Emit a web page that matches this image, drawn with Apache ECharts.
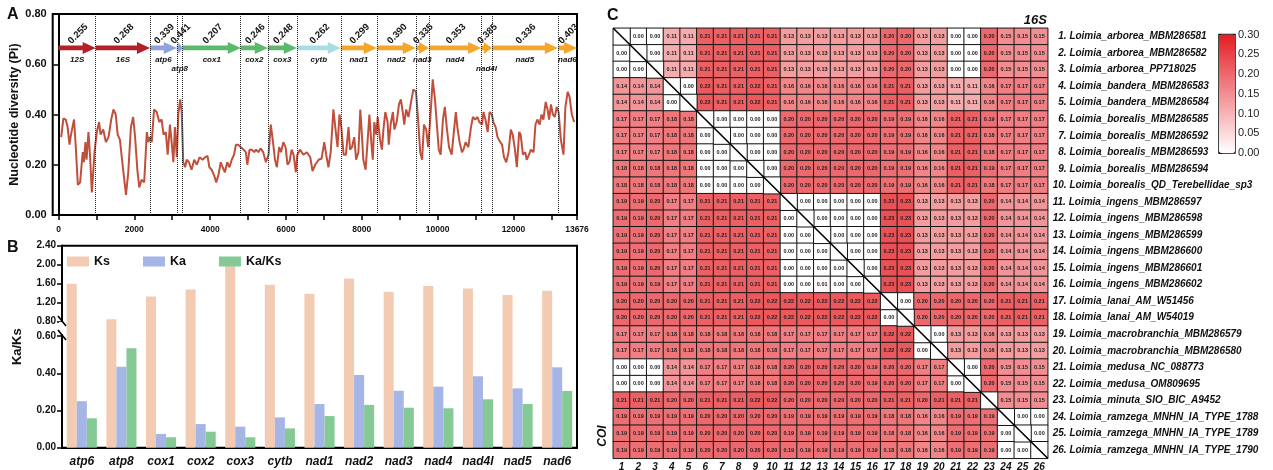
<!DOCTYPE html>
<html>
<head>
<meta charset="utf-8">
<script src="https://cdn.jsdelivr.net/npm/echarts@6/dist/echarts.min.js"></script>
<style>
  html, body { margin: 0; padding: 0; background: #fff; }
  #chart { width: 1273px; height: 470px; }
</style>
</head>
<body>
<div id="chart"></div>
<script>
// ---------- A: sliding-window nucleotide diversity ----------
const seqLength = 13676;
const piPos = [70,130,190,240,290,330,370,410,460,510,570,610,640,670,710,740,790,830,880,950,
  1010,1070,1110,1180,1250,1320,1390,1450,1510,1560,1620,1690,1780,1840,1910,1970,2020,2080,2130,2190,
  2260,2330,2370,2410,2460,2520,2590,2660,2720,2770,2830,2880,2940,2990,3030,3070,3120,3160,3210,3250,
  3290,3340,3380,3440,3510,3580,3650,3720,3800,3870,3930,3980,4040,4100,4160,4220,4280,4330,4390,4450,
  4510,4570,4630,4680,4740,4810,4880,4940,4980,5040,5100,5160,5210,5270,5330,5400,5470,5540,5600,5650,
  5710,5760,5820,5870,5930,5990,6040,6090,6150,6200,6260,6300,6370,6460,6550,6640,6700,6770,6860,6940,
  7010,7060,7120,7180,7250,7300,7360,7410,7460,7520,7580,7650,7690,7740,7800,7850,7910,7960,8010,8040,
  8100,8160,8200,8250,8290,8330,8380,8420,8480,8530,8570,8620,8680,8710,8760,8820,8860,8920,8980,9030,
  9080,9120,9170,9230,9300,9360,9430,9480,9540,9590,9640,9700,9750,9800,9870,9930,9980,10030,10080,10140,
  10190,10240,10300,10370,10440,10480,10520,10580,10640,10680,10740,10810,10880,10930,10990,11050,11100,11170,11210,11260,
  11320,11370,11430,11470,11530,11580,11650,11700,11750,11810,11870,11930,11980,12040,12090,12150,12190,12250,12310,12350,
  12410,12460,12530,12580,12630,12690,12740,12790,12850,12900,12940,12990,13040,13090,13140,13190,13250,13320,13370,13430,
  13480,13540,13600];
const piVal = [0.31,0.385,0.38,0.35,0.28,0.32,0.35,0.38,0.26,0.12,0.13,0.20,0.25,0.21,0.29,0.22,0.33,0.24,0.09,0.25,
  0.33,0.37,0.32,0.34,0.29,0.31,0.38,0.42,0.40,0.32,0.30,0.20,0.08,0.17,0.35,0.39,0.31,0.18,0.11,0.14,
  0.13,0.33,0.29,0.31,0.29,0.42,0.41,0.37,0.38,0.32,0.33,0.24,0.36,0.28,0.21,0.35,0.23,0.40,0.46,0.41,
  0.21,0.19,0.22,0.21,0.18,0.22,0.20,0.23,0.22,0.23,0.235,0.19,0.18,0.16,0.13,0.16,0.21,0.19,0.17,0.21,
  0.19,0.22,0.24,0.28,0.28,0.27,0.26,0.25,0.20,0.26,0.26,0.25,0.26,0.25,0.265,0.25,0.21,0.24,0.36,0.30,
  0.22,0.19,0.27,0.25,0.29,0.27,0.20,0.21,0.26,0.24,0.17,0.24,0.26,0.24,0.25,0.23,0.175,0.20,0.22,0.225,
  0.29,0.24,0.19,0.25,0.42,0.35,0.27,0.40,0.35,0.24,0.24,0.35,0.26,0.27,0.31,0.22,0.25,0.42,0.30,0.22,
  0.18,0.31,0.40,0.29,0.22,0.37,0.32,0.39,0.30,0.26,0.34,0.41,0.37,0.28,0.36,0.41,0.34,0.37,0.44,0.46,
  0.41,0.36,0.42,0.39,0.45,0.50,0.49,0.39,0.25,0.22,0.36,0.34,0.27,0.37,0.54,0.46,0.36,0.26,0.24,0.38,
  0.43,0.35,0.27,0.24,0.35,0.41,0.35,0.29,0.25,0.26,0.29,0.27,0.35,0.39,0.38,0.39,0.37,0.36,0.41,0.38,
  0.33,0.41,0.40,0.37,0.35,0.31,0.29,0.28,0.23,0.21,0.25,0.34,0.32,0.26,0.19,0.33,0.32,0.24,0.25,0.22,
  0.24,0.26,0.25,0.36,0.38,0.36,0.40,0.38,0.45,0.42,0.38,0.44,0.40,0.39,0.43,0.41,0.30,0.24,0.43,0.49,
  0.47,0.40,0.37];

const geneNames = ['12S','16S','atp6','atp8','cox1','cox2','cox3','cytb','nad1','nad2','nad3','nad4','nad4l','nad5','nad6'];
const geneEnds = [981,2414,3119,3277,4807,5520,6285,7446,8396,9425,9768,11148,11430,13172,13676];
const genePi = [0.255,0.268,0.339,0.441,0.207,0.246,0.248,0.262,0.299,0.390,0.335,0.353,0.385,0.336,0.403];

// ---------- B: Ka / Ks ----------
const pcgNames = ['atp6','atp8','cox1','cox2','cox3','cytb','nad1','nad2','nad3','nad4','nad4l','nad5','nad6'];
const ksVals = [1.60,0.85,1.33,1.48,2.01,1.58,1.39,1.71,1.43,1.55,1.50,1.36,1.45];
const kaVals = [0.25,0.435,0.074,0.127,0.113,0.163,0.235,0.391,0.306,0.328,0.384,0.319,0.432];
const kaksVals = [0.158,0.534,0.056,0.086,0.056,0.104,0.170,0.230,0.215,0.212,0.260,0.235,0.305];
const bTickLabels = [0, 0.2, 0.4, 0.6, 0.8, 1.2, 1.6, 2.0, 2.4];

// ---------- C: pairwise distances (lower COI, upper 16S) ----------
const speciesNames = ['Loimia_arborea_MBM286581','Loimia_arborea_MBM286582','Loimia_arborea_PP718025',
  'Loimia_bandera_MBM286583','Loimia_bandera_MBM286584','Loimia_borealis_MBM286585','Loimia_borealis_MBM286592',
  'Loimia_borealis_MBM286593','Loimia_borealis_MBM286594','Loimia_borealis_QD_Terebellidae_sp3',
  'Loimia_ingens_MBM286597','Loimia_ingens_MBM286598','Loimia_ingens_MBM286599','Loimia_ingens_MBM286600',
  'Loimia_ingens_MBM286601','Loimia_ingens_MBM286602','Loimia_lanai_AM_W51456','Loimia_lanai_AM_W54019',
  'Loimia_macrobranchia_MBM286579','Loimia_macrobranchia_MBM286580','Loimia_medusa_NC_088773',
  'Loimia_medusa_OM809695','Loimia_minuta_SIO_BIC_A9452','Loimia_ramzega_MNHN_IA_TYPE_1788',
  'Loimia_ramzega_MNHN_IA_TYPE_1789','Loimia_ramzega_MNHN_IA_TYPE_1790'];
const distRows = [
  [null,0.00,0.00,0.11,0.11,0.21,0.21,0.21,0.21,0.21,0.13,0.13,0.13,0.13,0.13,0.13,0.20,0.20,0.13,0.13,0.00,0.00,0.20,0.15,0.15,0.15],
  [0.00,null,0.00,0.11,0.11,0.21,0.21,0.21,0.21,0.21,0.13,0.13,0.13,0.13,0.13,0.13,0.20,0.20,0.13,0.13,0.00,0.00,0.20,0.15,0.15,0.15],
  [0.00,0.00,null,0.11,0.11,0.21,0.21,0.21,0.21,0.21,0.13,0.13,0.13,0.13,0.13,0.13,0.20,0.20,0.13,0.13,0.00,0.00,0.20,0.15,0.15,0.15],
  [0.14,0.14,0.14,null,0.00,0.22,0.21,0.21,0.22,0.21,0.16,0.16,0.16,0.16,0.16,0.16,0.21,0.21,0.13,0.13,0.11,0.11,0.16,0.17,0.17,0.17],
  [0.14,0.14,0.14,0.00,null,0.22,0.21,0.21,0.22,0.21,0.16,0.16,0.16,0.16,0.16,0.16,0.21,0.21,0.13,0.13,0.11,0.11,0.16,0.17,0.17,0.17],
  [0.17,0.17,0.17,0.18,0.18,null,0.00,0.00,0.00,0.00,0.20,0.20,0.20,0.20,0.20,0.20,0.19,0.19,0.16,0.16,0.21,0.21,0.19,0.17,0.17,0.17],
  [0.17,0.17,0.17,0.18,0.18,0.00,null,0.00,0.00,0.00,0.20,0.20,0.20,0.20,0.20,0.20,0.19,0.19,0.16,0.16,0.21,0.21,0.18,0.17,0.17,0.17],
  [0.17,0.17,0.17,0.18,0.18,0.00,0.00,null,0.00,0.00,0.20,0.20,0.20,0.20,0.20,0.20,0.19,0.19,0.16,0.16,0.21,0.21,0.18,0.17,0.17,0.17],
  [0.18,0.18,0.18,0.18,0.18,0.00,0.00,0.00,null,0.00,0.20,0.20,0.20,0.20,0.20,0.20,0.19,0.19,0.16,0.16,0.21,0.21,0.19,0.17,0.17,0.17],
  [0.18,0.18,0.18,0.18,0.18,0.00,0.00,0.00,0.00,null,0.20,0.20,0.20,0.20,0.20,0.20,0.19,0.19,0.16,0.16,0.21,0.21,0.18,0.17,0.17,0.17],
  [0.19,0.19,0.20,0.17,0.17,0.21,0.21,0.21,0.21,0.21,null,0.00,0.00,0.00,0.00,0.00,0.23,0.23,0.13,0.13,0.13,0.13,0.20,0.14,0.14,0.14],
  [0.19,0.19,0.20,0.17,0.17,0.21,0.21,0.21,0.21,0.21,0.00,null,0.00,0.00,0.00,0.00,0.23,0.23,0.13,0.13,0.13,0.13,0.20,0.14,0.14,0.14],
  [0.19,0.19,0.20,0.17,0.17,0.21,0.21,0.21,0.21,0.21,0.00,0.00,null,0.00,0.00,0.00,0.23,0.23,0.13,0.13,0.13,0.13,0.20,0.14,0.14,0.14],
  [0.19,0.19,0.20,0.17,0.17,0.21,0.21,0.21,0.21,0.21,0.00,0.00,0.00,null,0.00,0.00,0.23,0.23,0.13,0.13,0.13,0.13,0.20,0.14,0.14,0.14],
  [0.19,0.19,0.20,0.17,0.17,0.21,0.21,0.21,0.21,0.21,0.00,0.00,0.00,0.00,null,0.00,0.23,0.23,0.13,0.13,0.13,0.13,0.20,0.14,0.14,0.14],
  [0.19,0.19,0.19,0.17,0.17,0.21,0.21,0.21,0.21,0.21,0.00,0.00,0.01,0.00,0.00,null,0.23,0.23,0.13,0.13,0.13,0.13,0.20,0.14,0.14,0.14],
  [0.20,0.20,0.20,0.20,0.20,0.21,0.21,0.21,0.22,0.22,0.22,0.22,0.22,0.22,0.22,0.22,null,0.00,0.20,0.20,0.20,0.20,0.20,0.21,0.21,0.21],
  [0.20,0.20,0.20,0.20,0.20,0.21,0.21,0.21,0.22,0.22,0.22,0.22,0.22,0.22,0.22,0.22,0.00,null,0.20,0.20,0.20,0.20,0.20,0.21,0.21,0.21],
  [0.17,0.17,0.17,0.18,0.18,0.18,0.18,0.18,0.18,0.18,0.17,0.17,0.17,0.17,0.17,0.17,0.22,0.22,null,0.00,0.13,0.13,0.16,0.13,0.13,0.13],
  [0.17,0.17,0.17,0.18,0.18,0.18,0.18,0.18,0.18,0.18,0.17,0.17,0.17,0.17,0.17,0.17,0.22,0.22,0.00,null,0.13,0.13,0.16,0.13,0.13,0.13],
  [0.00,0.00,0.00,0.14,0.14,0.17,0.17,0.17,0.18,0.18,0.20,0.20,0.20,0.20,0.20,0.19,0.20,0.20,0.17,0.17,null,0.00,0.20,0.15,0.15,0.15],
  [0.00,0.00,0.00,0.14,0.14,0.17,0.17,0.17,0.18,0.18,0.20,0.20,0.20,0.20,0.20,0.19,0.20,0.20,0.17,0.17,0.00,null,0.20,0.15,0.15,0.15],
  [0.21,0.21,0.21,0.20,0.20,0.21,0.21,0.21,0.22,0.22,0.20,0.20,0.20,0.20,0.20,0.20,0.21,0.21,0.20,0.21,0.21,0.21,null,0.15,0.15,0.15],
  [0.19,0.19,0.19,0.19,0.19,0.20,0.20,0.20,0.20,0.20,0.19,0.19,0.19,0.19,0.19,0.19,0.18,0.18,0.16,0.16,0.19,0.19,0.19,null,0.00,0.00],
  [0.19,0.19,0.19,0.19,0.19,0.20,0.20,0.20,0.20,0.20,0.19,0.19,0.19,0.19,0.19,0.19,0.18,0.18,0.16,0.16,0.19,0.19,0.19,0.00,null,0.00],
  [0.19,0.19,0.19,0.19,0.19,0.20,0.20,0.20,0.20,0.20,0.19,0.19,0.19,0.19,0.19,0.19,0.18,0.18,0.16,0.16,0.19,0.19,0.19,0.00,0.00,null]
];

// ---------- layout / style ----------
const FONT = '"Liberation Sans", Arial, sans-serif';
const A = { left: 52.7, top: 14, width: 524.3, height: 201 };
const B = { left: 62, top: 245.7, width: 515, height: 202 };
const C = { left: 613.3, top: 28.3, width: 434.4, height: 430 };
const CB = { left: 1219, top: 34.5, width: 16, height: 118.5 };
const ARROW_Y = 0.665;

function geneColor(name) {
  if (/S$/.test(name)) return '#b2202a';
  if (name.startsWith('atp')) return '#8fa2dd';
  if (name.startsWith('cox')) return '#5bb86d';
  if (name === 'cytb') return '#a9dde6';
  return '#f5a52a';
}

// broken axis for panel B: 0-0.6 full scale, 0.6-0.8 compressed gap, 0.8-2.4 at ~1/4 scale
const LOW = 0.6, HIGH = 0.8, GAP = 0.077, UPPER = 0.2554;
function brk(v) {
  if (v <= LOW) return v;
  if (v < HIGH) return LOW + (v - LOW) / (HIGH - LOW) * GAP;
  return LOW + GAP + (v - HIGH) * UPPER;
}
const bTickPos = bTickLabels.map(brk);

const geneStarts = [0].concat(geneEnds.slice(0, -1));
const geneData = geneNames.map((g, i) => [geneStarts[i], geneEnds[i], ARROW_Y, i]);

const heatData = [], diagData = [];
distRows.forEach((row, r) => row.forEach((v, c) => {
  if (v === null) diagData.push([c, r, 0]);
  else heatData.push([c, r, v]);
}));

const chart = echarts.init(document.getElementById('chart'));

const gridBase = { outerBoundsMode: 'none', containLabel: false };

const option = {
  animation: false,
  textStyle: { fontFamily: FONT },
  grid: [
    Object.assign({ show: true, borderColor: '#000', borderWidth: 2 }, gridBase, A),
    Object.assign({ show: true, borderColor: '#000', borderWidth: 2 }, gridBase, B),
    Object.assign({ show: false }, gridBase, C),
    Object.assign({ show: true, borderColor: '#111', borderWidth: 1.5 }, gridBase, CB)
  ],
  xAxis: [
    {
      gridIndex: 0, type: 'value', min: -153, max: seqLength,
      axisLine: { lineStyle: { color: '#000', width: 2 } },
      axisTick: { length: 5, lineStyle: { width: 1.5, color: '#000' },
        customValues: [0,1000,2000,3000,4000,5000,6000,7000,8000,9000,10000,11000,12000,13000,seqLength] },
      axisLabel: { customValues: [0,2000,4000,6000,8000,10000,12000,seqLength], formatter: v => String(v),
        fontSize: 8.5, fontWeight: 'bold', color: '#111', margin: 10 },
      splitLine: { show: false }
    },
    {
      gridIndex: 1, type: 'category', data: pcgNames,
      axisLine: { lineStyle: { color: '#000', width: 2 } },
      axisTick: { alignWithLabel: true, interval: 0, length: 5, lineStyle: { width: 1.5, color: '#000' } },
      axisLabel: { interval: 0, fontSize: 12, fontWeight: 'bold', fontStyle: 'italic', color: '#111', margin: 8 }
    },
    {
      gridIndex: 2, type: 'category', data: speciesNames.map((_, i) => String(i + 1)),
      axisLine: { show: false }, axisTick: { show: false }, splitArea: { show: false },
      axisLabel: { interval: 0, fontSize: 10, fontWeight: 'bold', fontStyle: 'italic', color: '#111', margin: 4 }
    },
    { gridIndex: 3, type: 'value', show: false, min: 0, max: 1 }
  ],
  yAxis: [
    {
      gridIndex: 0, type: 'value', min: 0, max: 0.8, interval: 0.2,
      name: 'Nucleotide diversity (Pi)', nameLocation: 'middle', nameGap: 31,
      nameTextStyle: { fontSize: 12.5, fontWeight: 'bold', color: '#111' },
      axisLine: { show: true, lineStyle: { color: '#000', width: 2 } },
      axisTick: { show: true, length: 5, lineStyle: { width: 1.5, color: '#000' } },
      axisLabel: { formatter: v => v.toFixed(2), fontSize: 11, fontWeight: 'bold', color: '#111', margin: 6 },
      splitLine: { show: false }
    },
    {
      gridIndex: 1, type: 'value', min: 0, max: brk(2.4),
      name: 'Ka/Ks', nameLocation: 'middle', nameGap: 38,
      nameTextStyle: { fontSize: 13, fontWeight: 'bold', color: '#111' },
      axisLine: { show: true, lineStyle: { color: '#000', width: 2 } },
      axisTick: { show: true, length: 5, lineStyle: { width: 1.5, color: '#000' }, customValues: bTickPos },
      axisLabel: {
        customValues: bTickPos, fontSize: 10, fontWeight: 'bold', color: '#111', margin: 6,
        formatter: v => {
          let best = 0;
          bTickPos.forEach((p, i) => { if (Math.abs(p - v) < Math.abs(bTickPos[best] - v)) best = i; });
          return bTickLabels[best].toFixed(2);
        }
      },
      splitLine: { show: false }
    },
    {
      gridIndex: 2, type: 'category', data: speciesNames.map((n, i) => (i < 9 ? '\u2007' : '') + (i + 1) + '. ' + n),
      inverse: true, position: 'right',
      axisLine: { show: false }, axisTick: { show: false },
      axisLabel: { interval: 0, align: 'left', fontSize: 10, fontWeight: 'bold', fontStyle: 'italic',
        color: '#111', margin: 5 }
    },
    {
      gridIndex: 3, type: 'value', min: 0, max: 0.3, interval: 0.05, position: 'right',
      axisLine: { show: true, lineStyle: { color: '#111', width: 1.2 } },
      axisTick: { show: true, length: 3, lineStyle: { color: '#111' } },
      axisLabel: { formatter: v => v.toFixed(2), fontSize: 11, color: '#222', margin: 3 },
      splitLine: { show: false }
    }
  ],
  visualMap: {
    type: 'continuous', min: 0, max: 0.3, seriesIndex: 5, dimension: 2,
    calculable: false, orient: 'vertical', padding: 0,
    left: CB.left, top: CB.top, itemWidth: CB.width, itemHeight: CB.height,
    text: null, showLabel: false,
    inRange: { color: ['#ffffff', '#e41c22'] }
  },
  legend: {
    left: 62, top: 250, itemWidth: 22, itemHeight: 10, itemGap: 33, icon: 'rect',
    textStyle: { fontSize: 12.5, fontWeight: 'bold', color: '#111' },
    data: ['Ks', 'Ka', 'Ka/Ks']
  },
  series: [
    {
      type: 'line', xAxisIndex: 0, yAxisIndex: 0, symbol: 'none',
      data: piPos.map((p, i) => [p, piVal[i]]),
      lineStyle: { color: '#c0503c', width: 2 },
      markLine: {
        silent: true, symbol: 'none', label: { show: false },
        lineStyle: { type: 'dotted', color: '#222', width: 1 },
        data: geneEnds.slice(0, -1).map(x => ({ xAxis: x }))
      },
      z: 3
    },
    {
      type: 'custom', xAxisIndex: 0, yAxisIndex: 0,
      encode: { x: [0, 1], y: 2 },
      data: geneData,
      renderItem: (params, api) => {
        const s = api.coord([api.value(0), api.value(2)]);
        const e = api.coord([api.value(1), api.value(2)]);
        const i = api.value(3);
        const name = geneNames[i];
        const len = e[0] - s[0];
        const head = Math.min(13, len * 0.75);
        const y = s[1];
        const hx = e[0] - head;
        const low = (name === 'atp8' || name === 'nad4l');
        return {
          type: 'group',
          children: [
            { type: 'polygon',
              shape: { points: [[s[0], y - 2.4], [hx, y - 2.4], [hx, y - 6], [e[0], y], [hx, y + 6], [hx, y + 2.4], [s[0], y + 2.4]] },
              style: { fill: geneColor(name) } },
            { type: 'text', x: (s[0] + e[0]) / 2 + 1, y: y - 14, rotation: Math.PI / 4,
              style: { text: genePi[i].toFixed(3), align: 'center', verticalAlign: 'middle',
                font: 'bold 9.5px ' + FONT, fill: '#111' } },
            { type: 'text', x: (s[0] + e[0]) / 2, y: y + (low ? 21 : 12),
              style: { text: name, align: 'center', verticalAlign: 'middle',
                font: 'italic bold 8px ' + FONT, fill: '#111' } }
          ]
        };
      },
      z: 4
    },
    {
      name: 'Ks', type: 'bar', xAxisIndex: 1, yAxisIndex: 1, barGap: '0%', barCategoryGap: '24%',
      data: ksVals.map(brk), itemStyle: { color: '#f3cbb2' }
    },
    {
      name: 'Ka', type: 'bar', xAxisIndex: 1, yAxisIndex: 1, barGap: '0%', barCategoryGap: '24%',
      data: kaVals.map(brk), itemStyle: { color: '#a5b5e6' }
    },
    {
      name: 'Ka/Ks', type: 'bar', xAxisIndex: 1, yAxisIndex: 1, barGap: '0%', barCategoryGap: '24%',
      data: kaksVals.map(brk), itemStyle: { color: '#85c995' }
    },
    {
      type: 'heatmap', xAxisIndex: 2, yAxisIndex: 2, data: heatData,
      itemStyle: { borderColor: '#151515', borderWidth: 1 },
      label: { show: true, fontSize: 5.5, fontWeight: 'bold', color: '#222', formatter: p => p.value[2].toFixed(2) },
      emphasis: { disabled: true }
    },
    {
      type: 'heatmap', xAxisIndex: 2, yAxisIndex: 2, data: diagData,
      itemStyle: { color: '#ffffff', borderColor: '#151515', borderWidth: 1 },
      label: { show: false }, emphasis: { disabled: true }
    }
  ],
  graphic: [
    { type: 'text', left: 7, top: 7, style: { text: 'A', font: 'bold 16px ' + FONT, fill: '#111' } },
    { type: 'text', left: 7, top: 240, style: { text: 'B', font: 'bold 16px ' + FONT, fill: '#111' } },
    { type: 'text', left: 607, top: 8, style: { text: 'C', font: 'bold 16px ' + FONT, fill: '#111' } },
    { type: 'text', right: 1273 - 1047, top: 14, style: { text: '16S', font: 'italic bold 13px ' + FONT, fill: '#111' } },
    { type: 'text', x: 603, y: 436, rotation: Math.PI / 2,
      style: { text: 'COI', font: 'italic bold 12px ' + FONT, fill: '#111', align: 'center', verticalAlign: 'middle' } },
    // diagonal of the distance matrix
    { type: 'line', shape: { x1: C.left, y1: C.top, x2: C.left + C.width, y2: C.top + C.height },
      style: { stroke: '#000', lineWidth: 1.6 }, z: 100 },
    // broken axis marks on panel B
    { type: 'rect', shape: { x: B.left - 3, y: 322, width: 6, height: 12 }, style: { fill: '#fff' }, z: 100 },
    { type: 'line', shape: { x1: B.left - 4, y1: 316, x2: B.left + 4, y2: 326 }, style: { stroke: '#000', lineWidth: 1.6 }, z: 101 },
    { type: 'line', shape: { x1: B.left - 4, y1: 330, x2: B.left + 4, y2: 340 }, style: { stroke: '#000', lineWidth: 1.6 }, z: 101 }
  ]
};

chart.setOption(option);
</script>
</body>
</html>
